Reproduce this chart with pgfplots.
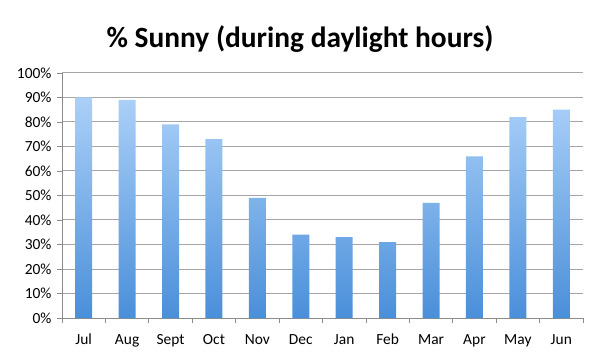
\documentclass[border=0pt]{standalone}
\usepackage{pgfplots}
\pgfplotsset{compat=1.18}
\usepackage{fontspec}
\setmainfont{Carlito}
\definecolor{gridc}{HTML}{A6A6A6}
\definecolor{axc}{HTML}{8C8C8C}
\definecolor{barTop}{HTML}{ABD0F8}
\definecolor{barBot}{HTML}{4A8FDA}
\begin{document}
\begin{tikzpicture}
\useasboundingbox (-62bp,-40bp) rectangle (539bp,318bp);
\begin{axis}[
  at={(0,0)}, anchor=south west,
  scale only axis, width=521bp, height=245bp,
  xmin=0.5, xmax=12.5, ymin=0, ymax=100,
  axis lines*=left,
  axis line style={axc, line width=0.8bp},
  xtick={0.5,1.5,...,12.5},
  x tick label as interval,
  xticklabels={Jul,Aug,Sept,Oct,Nov,Dec,Jan,Feb,Mar,Apr,May,Jun},
  ytick={0,10,...,100},
  yticklabel={\pgfmathprintnumber{\tick}\%},
  /pgf/number format/assume math mode=true,
  tick align=outside,
  major tick length=5bp,
  tick style={axc, line width=0.8bp},
  ymajorgrids,
  grid style={gridc, line width=1bp},
  ticklabel style={font=\fontsize{15.5}{18}\selectfont, text=black},
  yticklabel style={xshift=-2bp},
  xticklabel style={anchor=base, yshift=-21bp},
  ybar, bar width=17bp,
]
\addplot[draw=none, top color=barTop, bottom color=barBot] coordinates {
(1,90) (2,89) (3,79) (4,73) (5,49) (6,34) (7,33) (8,31) (9,47) (10,66) (11,82) (12,85)
};
\end{axis}
\node[font=\fontsize{29.5}{34}\selectfont\bfseries] at (238bp,279bp) {\% Sunny (during daylight hours)};
\end{tikzpicture}
\end{document}
